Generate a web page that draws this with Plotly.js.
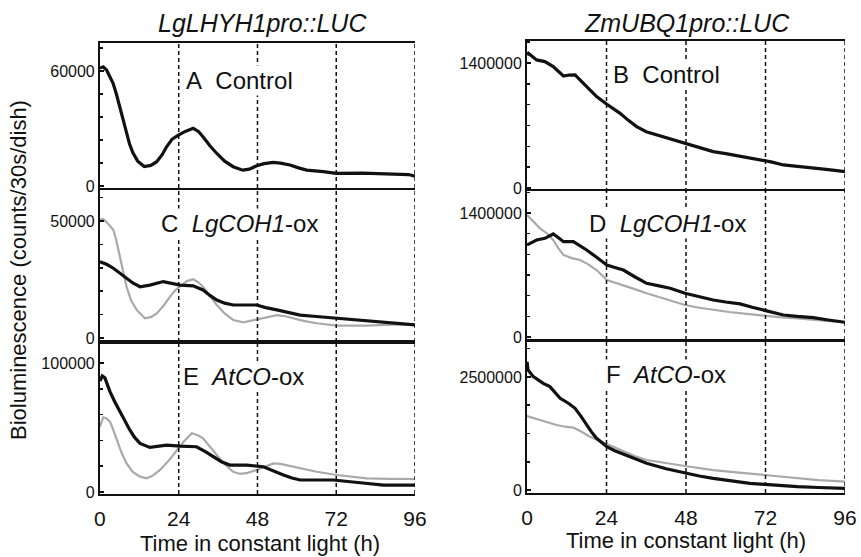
<!DOCTYPE html>
<html>
<head>
<meta charset="utf-8">
<script src="https://cdn.plot.ly/plotly-3.0.1.min.js"></script>
<style>html,body{margin:0;padding:0;background:#fff;}#chart{width:861px;height:557px;}</style>
</head>
<body>
<div id="chart"></div>
<script>
// ---------- DATA ----------
const hourTicks = [0, 24, 48, 72, 96];
const guideHours = [24, 48, 72, 96];

// Panel A: LgLHYH1pro::LUC, Control
const hoursA = [0,1,2,3,4,5,6,7,8,9,10,11.5,13.5,15.5,17.3,19,20.3,22,23.9,26,28.4,30,31.4,33.5,35.6,38,40.6,43.5,45.5,47.8,50,52.8,55,57.9,60.5,63,68,72,80,88,92,94,96];
const lumA = [61500,62200,60500,57000,53600,48000,41400,34500,27500,22000,17500,13000,10200,10800,12700,16500,20500,24500,26600,28500,30100,28500,25700,21000,17000,13000,10100,8300,8800,10600,11700,12300,12000,11000,9500,8300,7500,6600,6700,6500,6300,6000,5200];

// Panel C: LgLHYH1pro::LUC, LgCOH1-ox (gray = control, black = LgCOH1-ox)
const hoursCgray = [0,1,2,3,4.1,5,6.1,7,8.1,9.5,11.2,13.7,15.5,17.3,19.5,21.3,23,24.9,26.5,28.4,30,31.4,33.5,35.6,38,40.6,43.7,46,48.8,51,53.9,56.5,59,62,66,72.2,81.3,88,91.5,96];
const lumCgray = [50500,50800,49500,48000,46100,41500,34700,28000,21900,16000,12000,8400,8900,10500,14000,17600,20500,22600,24300,25100,23800,21900,18000,14100,10500,7700,6700,7400,8400,9200,9800,9300,8400,7300,6300,5300,5300,5500,5800,5600];
const hoursCblack = [0,2,4.1,6,8.1,10,12.2,15.2,19.3,22,24.4,28.4,31.4,33.5,35.6,38,40.6,47.8,50.5,53.9,57,61,66,72.2,81.3,88,96];
const lumCblack = [32600,31500,29800,27800,25500,23500,21900,22600,24100,23300,22600,22300,20500,18200,16200,14900,14100,14100,13000,12000,11000,9800,9200,8400,7300,6600,5600];

// Panel E: LgLHYH1pro::LUC, AtCO-ox
const hoursEgray = [0,1,2,3.05,4,5.1,6.5,8.1,10,12.2,14.2,16,18.3,21,23.4,25.5,28,29.8,31.4,33.5,35.6,38,40.6,42.7,45,47.8,50.5,52.8,55,59,62,66,72.2,81.3,88,96];
const lumEgray = [50600,57900,57000,54500,48500,40300,31000,22200,15500,11900,10600,12500,17100,24500,32600,39000,45500,44000,41600,35500,28700,21500,15700,14000,14800,17100,20000,22200,21800,19600,17800,15700,13200,10600,10200,10100];
const hoursEblack = [0,0.7,1.5,3.05,4.5,6.1,7.5,9.1,10.5,12.2,15.2,18,20.3,24.4,29.4,32,34.5,37,39.6,44.7,49.8,52.5,55.9,58.5,61,71.1,75,79.3,86.4,96];
const lumEblack = [86000,90000,88500,77800,70000,62300,55000,48100,42500,37700,34600,35800,36400,35600,35100,31500,27400,23500,20900,20900,19600,16500,13200,10800,9300,9300,8500,7200,5400,5400];

// Panel B: ZmUBQ1pro::LUC, Control
const hoursB = [0,0.4,2.9,5.4,7.9,9.5,11,12.7,14.5,16,18,21,24.1,26,28.1,30.5,33.1,36,39.2,43.5,47.7,52,56.2,60,64.3,68,71.3,74,77.4,82,86.4,91,96];
const lumB = [1490000,1508000,1434000,1415000,1359000,1300000,1254000,1265000,1266000,1210000,1135000,1023000,937000,890000,836000,760000,687000,630000,594000,545000,500000,455000,407000,385000,358000,335000,314000,290000,258000,243000,228000,205000,183000];

// Panel D: ZmUBQ1pro::LUC, LgCOH1-ox
const hoursDgray = [0,1,3.9,6,7.9,9.5,11,13.5,16,18.5,21,24.1,26.5,29.1,32.5,36.1,42,47.7,52,56.2,61,66.3,71.8,76,81.6,88,96];
const lumDgray = [1377000,1340000,1227000,1170000,1095000,1000000,926000,890000,869000,820000,756000,644000,615000,587000,540000,493000,425000,361000,330000,305000,282000,260000,237000,225000,211000,190000,166000];
const hoursDblack = [0,1.5,2.9,5.4,7.9,9.5,11,14,16,18,21,24.1,26.5,29.1,32.5,36.1,39.5,43.2,47.7,52,56.2,60,64.3,68,71.8,74.5,77.4,81.6,86.4,91,96];
const lumDblack = [1039000,1070000,1095000,1114000,1163000,1120000,1076000,1076000,1030000,982000,900000,813000,785000,756000,680000,606000,580000,550000,493000,455000,418000,395000,373000,335000,297000,270000,248000,232000,218000,192000,166000];

// Panel F: ZmUBQ1pro::LUC, AtCO-ox
const hoursFgray = [0,3.9,8.9,11.5,14,16.5,19,21.5,24.1,26.5,29.1,32.5,36.1,42,47.7,52,56.2,64,71.8,76,81.6,88,96];
const lumFgray = [1637000,1549000,1438000,1400000,1379000,1290000,1180000,1100000,1018000,930000,848000,750000,664000,590000,531000,485000,442000,385000,332000,295000,258000,220000,184000];
const hoursFblack = [0,0.3,1.9,4.9,6.9,8.5,10,12.5,14.5,16.2,18,19.5,21,24.1,26.5,29.1,32.5,36.1,42,47.7,52,56.2,62,67.3,71.8,76,81.6,88,96];
const lumFblack = [2839000,2655000,2507000,2360000,2286000,2150000,2028000,1920000,1807000,1640000,1438000,1280000,1143000,959000,870000,796000,690000,590000,470000,369000,310000,258000,200000,148000,125000,100000,74000,55000,37000];

// Text
const columnTitles = ['LgLHYH1pro::LUC', 'ZmUBQ1pro::LUC'];
const panelLabels = ['A\u00a0\u00a0Control', 'B\u00a0\u00a0Control', 'C\u00a0\u00a0<i>LgCOH1</i>-ox', 'D\u00a0\u00a0<i>LgCOH1</i>-ox', 'E\u00a0\u00a0<i>AtCO</i>-ox', 'F\u00a0\u00a0<i>AtCO</i>-ox'];
const xTitle = 'Time in constant light (h)';
const yTitle = 'Bioluminescence (counts/30s/dish)';
const yLabelValues = [60000, 1400000, 50000, 1400000, 100000, 2500000];

// ---------- LAYOUT ----------
const FONT = 'Liberation Sans, Arial, Helvetica, sans-serif';
const BLACK = '#111111';
const GRAY = '#a9a9a9';

const panels = [
  {xd:[0.1161,0.4820], yd:[0.6625,0.9228], yr:[-1000,74600], minor:12000, bottom:false},
  {xd:[0.6121,0.9814], yd:[0.6553,0.9264], yr:[-44800,1646000], minor:1400000/6, bottom:false},
  {xd:[0.1161,0.4820], yd:[0.3860,0.6589], yr:[-1700,63200], minor:10000, bottom:false},
  {xd:[0.6121,0.9814], yd:[0.3896,0.6571], yr:[-33900,1648000], minor:1400000/6, bottom:false},
  {xd:[0.1161,0.4820], yd:[0.1131,0.3860], yr:[-1550,116300], minor:20000, bottom:true},
  {xd:[0.6121,0.9814], yd:[0.1149,0.3878], yr:[-66000,3296000], minor:625000, bottom:true}
];

const series = [
  [{x:hoursA, y:lumA, c:BLACK}],
  [{x:hoursB, y:lumB, c:BLACK}],
  [{x:hoursCgray, y:lumCgray, c:GRAY}, {x:hoursCblack, y:lumCblack, c:BLACK}],
  [{x:hoursDgray, y:lumDgray, c:GRAY}, {x:hoursDblack, y:lumDblack, c:BLACK}],
  [{x:hoursEgray, y:lumEgray, c:GRAY}, {x:hoursEblack, y:lumEblack, c:BLACK}],
  [{x:hoursFgray, y:lumFgray, c:GRAY}, {x:hoursFblack, y:lumFblack, c:BLACK}]
];

const traces = [];
const layout = {
  width: 861, height: 557,
  margin: {l:0, r:0, t:0, b:0},
  paper_bgcolor: '#fff', plot_bgcolor: '#fff',
  showlegend: false,
  font: {family: FONT, color: BLACK},
  shapes: [], annotations: []
};

panels.forEach((p, i) => {
  const n = i + 1;
  const xk = n === 1 ? 'xaxis' : 'xaxis' + n;
  const yk = n === 1 ? 'yaxis' : 'yaxis' + n;
  const xr = n === 1 ? 'x' : 'x' + n;
  const yr = n === 1 ? 'y' : 'y' + n;
  layout[xk] = {
    domain: p.xd, range: [0, 96], anchor: yr,
    showline: true, linewidth: 2, linecolor: BLACK, mirror: true,
    showgrid: false, zeroline: false, automargin: false,
    tickmode: 'array', tickvals: hourTicks, ticktext: hourTicks.map(String),
    ticks: '', showticklabels: p.bottom,
    tickfont: {size: 21, family: FONT, color: BLACK}, ticklabelstandoff: 5
  };
  layout[yk] = {
    domain: p.yd, range: p.yr, anchor: xr,
    showline: true, linewidth: 2, linecolor: BLACK, mirror: false,
    showgrid: false, zeroline: false, automargin: false,
    tickmode: 'array', tickvals: [0, yLabelValues[i]], ticktext: ['0', String(yLabelValues[i])],
    ticks: 'inside', ticklen: 4, tickwidth: 1.5, tickcolor: BLACK,
    minor: {ticks: 'inside', ticklen: 3, tickwidth: 1.5, tickcolor: BLACK, dtick: p.minor, tick0: 0, showgrid: false},
    tickfont: {size: 16, family: FONT, color: BLACK}, ticklabelstandoff: 0
  };
  series[i].forEach(s => {
    traces.push({
      type: 'scatter', mode: 'lines', x: s.x, y: s.y, xaxis: xr, yaxis: yr,
      line: {color: s.c, width: s.c === BLACK ? 3.2 : 2.2}, hoverinfo: 'skip'
    });
  });
  guideHours.forEach(h => {
    layout.shapes.push({
      type: 'line', xref: xr, yref: yr + ' domain', x0: h, x1: h, y0: 0, y1: 1,
      line: {color: BLACK, width: 1.5, dash: '4px,3px'}, layer: 'above'
    });
  });
});

// Panel labels (white background hides guide lines behind text)
const labelPos = [
  [0.2137, 0.8546], [0.7096, 0.8671], [0.1846, 0.5996],
  [0.6817, 0.5996], [0.2102, 0.3232], [0.7015, 0.3285]
];
panelLabels.forEach((t, i) => {
  layout.annotations.push({
    text: t, xref: 'paper', yref: 'paper', x: labelPos[i][0], y: labelPos[i][1],
    xanchor: 'left', yanchor: 'middle', showarrow: false, bgcolor: '#fff', borderpad: 1,
    font: {size: 24, family: FONT, color: BLACK}
  });
});
// Column titles
[[0.3043, 0.9587], [0.7979, 0.9587]].forEach((pos, i) => {
  layout.annotations.push({
    text: '<i>' + columnTitles[i] + '</i>', xref: 'paper', yref: 'paper', x: pos[0], y: pos[1],
    xanchor: 'center', yanchor: 'middle', showarrow: false,
    font: {size: 25, family: FONT, color: BLACK}
  });
});
// X titles
[[0.302, 0.0251], [0.7967, 0.0305]].forEach(pos => {
  layout.annotations.push({
    text: xTitle, xref: 'paper', yref: 'paper', x: pos[0], y: pos[1],
    xanchor: 'center', yanchor: 'middle', showarrow: false,
    font: {size: 22, family: FONT, color: BLACK}
  });
});
// Y title
layout.annotations.push({
  text: yTitle, xref: 'paper', yref: 'paper', x: 0.0221, y: 0.5153,
  xanchor: 'center', yanchor: 'middle', showarrow: false, textangle: -90,
  font: {size: 22, family: FONT, color: BLACK}
});

Plotly.newPlot('chart', traces, layout, {staticPlot: true, displayModeBar: false});
</script>
</body>
</html>
